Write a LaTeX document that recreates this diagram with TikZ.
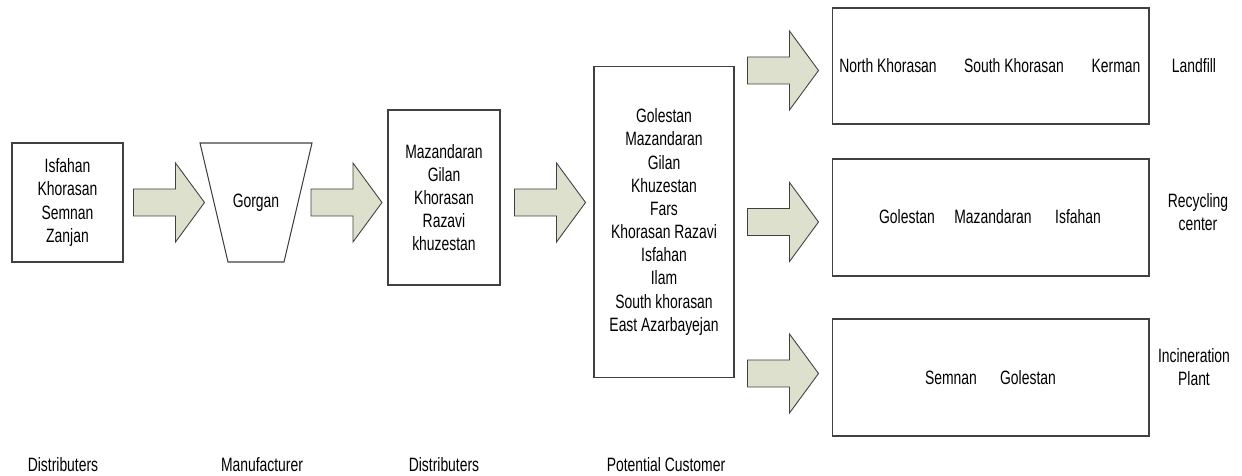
\documentclass[tikz,border=0pt]{standalone}
\usepackage{fontspec}
\setmainfont{Liberation Sans}[FakeStretch=0.72]
\usetikzlibrary{shapes.geometric, positioning, calc}

\definecolor{arrowgreen}{RGB}{221,224,204}
\definecolor{edgegray}{RGB}{64,64,64}

\tikzset{
	txt/.style={align=center, inner sep=0pt, font=\fontsize{11}{13.2}\selectfont},
	region/.style={txt, draw=edgegray, fill=white, line width=0.6pt},
	flowarrow/.pic={
		\draw[draw=edgegray, fill=arrowgreen, line width=0.5pt]
			(0,-13.5) -- (42,-13.5) -- (42,-39.5) -- (71,0) -- (42,39.5) -- (42,13.5) -- (0,13.5) -- cycle;
	}
}

\begin{document}
\begin{tikzpicture}[x=0.02cm, y=-0.02cm]
	\useasboundingbox (0,0) rectangle (1242,476);

	% supply chain boxes
	\node[region, minimum width=2.22cm, minimum height=2.38cm] (dist1) at (67.5,202.5)
		{Isfahan\\Khorasan\\Semnan\\Zanjan};
	\draw[draw=edgegray, line width=0.6pt] (200,143) -- (312,143) -- (284,262) -- (228,262) -- cycle;
	\node[txt] (manu) at (256,202.5) {Gorgan};
	\node[region, minimum width=2.24cm, minimum height=3.5cm] (dist2) at (444,197.5)
		{Mazandaran\\Gilan\\Khorasan\\Razavi\\khuzestan};
	\node[region, minimum width=2.8cm, minimum height=6.24cm] (cust) at (664,222)
		{Golestan\\Mazandaran\\Gilan\\Khuzestan\\Fars\\Khorasan Razavi\\Isfahan\\Ilam\\South khorasan\\East Azarbayejan};

	% end of life boxes
	\node[region, minimum width=6.34cm, minimum height=2.32cm] (land) at (990.5,66) {};
	\node[region, minimum width=6.34cm, minimum height=2.34cm] (recy) at (990.5,217.5) {};
	\node[region, minimum width=6.34cm, minimum height=2.34cm] (inci) at (990.5,377.5) {};

	\node[txt] (land1) at (888,66) {North Khorasan};
	\node[txt] (land2) at (1014,66) {South Khorasan};
	\node[txt] (land3) at (1116,66) {Kerman};
	\node[txt] (recy1) at (907,217) {Golestan};
	\node[txt] (recy2) at (993,217) {Mazandaran};
	\node[txt] (recy3) at (1078,217) {Isfahan};
	\node[txt] (inci1) at (951,378) {Semnan};
	\node[txt] (inci2) at (1028,378) {Golestan};

	\node[txt] (landlbl) at (1194,66) {Landfill};
	\node[txt] (recylbl) at (1198,212) {Recycling\\center};
	\node[txt] (incilbl) at (1194,367) {Incineration\\Plant};

	% block arrows
	\pic at ($(dist1.east)+(10,0)$) {flowarrow};
	\pic at (311,202.5) {flowarrow};
	\pic at ($(dist2.east)+(14,5)$) {flowarrow};
	\pic at ($(cust.east |- land.west)+(13,4.5)$) {flowarrow};
	\pic at ($(cust.east |- recy.west)+(13,4.5)$) {flowarrow};
	\pic at ($(cust.east |- inci.west)+(13,-4)$) {flowarrow};

	% stage names
	\node[txt] (s1) at (63,465) {Distributers};
	\node[txt] (s2) at (262,465) {Manufacturer};
	\node[txt] (s3) at (444,465) {Distributers};
	\node[txt] (s4) at (666,465) {Potential Customer};
\end{tikzpicture}
\end{document}
